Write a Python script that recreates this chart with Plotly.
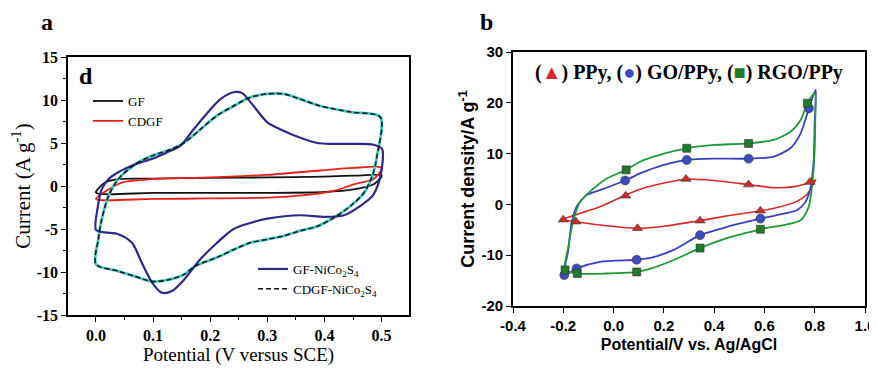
import plotly.graph_objects as go

# ---------------- Panel a data (CV loops) ----------------
gfnico_x = [0.0, 0.003, 0.010, 0.022, 0.039, 0.068, 0.10, 0.124, 0.148, 0.171, 0.195, 0.218, 0.241, 0.256,
            0.276, 0.30, 0.329, 0.358, 0.387, 0.416, 0.451, 0.486, 0.501, 0.501, 0.495, 0.484, 0.463, 0.434,
            0.40, 0.358, 0.30, 0.27, 0.241, 0.212, 0.183, 0.154, 0.133, 0.115, 0.098, 0.08, 0.063, 0.039,
            0.016, 0.0]
gfnico_y = [-5.1, -2.5, -0.4, 0.8, 1.6, 2.5, 3.2, 3.9, 4.7, 6.6, 8.5, 10.1, 10.9, 10.8,
            9.3, 7.4, 6.4, 5.6, 5.0, 4.9, 4.9, 4.8, 4.3, 2.3, 0.4, -1.15, -2.3, -3.4,
            -3.6, -3.4, -3.8, -4.3, -5.0, -6.6, -8.5, -10.9, -12.2, -12.4, -11.2, -8.9, -6.6, -5.6,
            -5.4, -5.1]

cdgfnico_x = [0.0, 0.004, 0.010, 0.022, 0.039, 0.068, 0.098, 0.133, 0.156, 0.183, 0.212, 0.241, 0.270,
              0.30, 0.329, 0.358, 0.393, 0.446, 0.498, 0.492, 0.484, 0.469, 0.446, 0.416, 0.387, 0.358,
              0.329, 0.30, 0.27, 0.241, 0.212, 0.174, 0.154, 0.127, 0.098, 0.068, 0.039, 0.0]
cdgfnico_y = [-9.1, -6.2, -3.9, -1.15, 0.8, 2.5, 3.5, 4.3, 5.1, 6.6, 8.2, 9.3, 10.3,
              10.7, 10.7, 10.1, 9.3, 8.6, 8.0, 3.5, 1.2, -0.8, -2.3, -3.7, -4.7, -5.2,
              -5.8, -6.2, -6.6, -7.4, -8.3, -9.3, -10.3, -10.9, -11.1, -10.5, -9.9, -9.1]

gf_x = [0.0, 0.016, 0.039, 0.1, 0.2, 0.3, 0.4, 0.45, 0.5, 0.5, 0.486, 0.451, 0.4, 0.3, 0.2, 0.1, 0.0]
gf_y = [-0.76, 0.4, 0.8, 0.85, 0.95, 1.0, 1.1, 1.2, 1.25, 1.1, 0.2, -0.4, -0.7, -0.8, -0.8, -0.8, -0.76]

cdgf_x = [0.0, 0.022, 0.045, 0.098, 0.2, 0.3, 0.393, 0.45, 0.498, 0.5, 0.486, 0.451, 0.42, 0.36, 0.3, 0.2, 0.1, 0.0]
cdgf_y = [-1.5, -0.4, 0.4, 0.8, 1.0, 1.3, 1.8, 2.1, 2.2, 2.0, 0.8, 0.2, -0.5, -1.1, -1.35, -1.45, -1.5, -1.5]

a_xticks = [0.0, 0.1, 0.2, 0.3, 0.4, 0.5]
a_xlabels = ["0.0", "0.1", "0.2", "0.3", "0.4", "0.5"]
a_yticks = [-15, -10, -5, 0, 5, 10, 15]
a_ylabels = ["-15", "-10", "-5", "0", "5", "10", "15"]

# ---------------- Panel b data ----------------
ppy_x = [-0.2, -0.054, 0.046, 0.105, 0.2, 0.29, 0.4, 0.537, 0.637, 0.72, 0.78, 0.804,
         0.80, 0.77, 0.72, 0.65, 0.584, 0.46, 0.344, 0.2, 0.095, -0.054, -0.15, -0.2]
ppy_y = [-3.0, -0.45, 1.8, 3.0, 4.2, 5.0, 4.7, 3.9, 3.3, 3.5, 4.3, 4.8,
         4.5, 2.0, 0.4, -0.6, -1.25, -2.2, -3.2, -4.3, -4.7, -4.05, -3.4, -3.0]
ppy_mx = [-0.2, 0.048, 0.288, 0.537, 0.781, 0.584, 0.344, 0.095, -0.15]
ppy_my = [-3.0, 1.7, 5.0, 3.9, 4.4, -1.25, -3.2, -4.7, -3.4]

gopp_x = [-0.196, -0.18, -0.167, -0.147, -0.107, -0.054, 0.046, 0.105, 0.2, 0.291, 0.4, 0.537, 0.637,
          0.704, 0.744, 0.777, 0.804, 0.80, 0.795, 0.782, 0.762, 0.731, 0.65, 0.584, 0.46, 0.344,
          0.237, 0.15, 0.092, -0.054, -0.147, -0.196]
gopp_y = [-13.9, -9.0, -3.7, -0.45, 1.85, 2.8, 4.7, 6.1, 7.8, 8.75, 9.0, 9.0, 9.4,
          11.1, 14.0, 18.9, 22.6, 16.0, 8.0, 3.0, 0.4, -1.1, -2.1, -2.8, -4.3, -6.05,
          -9.0, -10.5, -10.9, -11.3, -12.6, -13.9]
gopp_mx = [0.046, 0.291, 0.537, 0.777, 0.584, 0.344, 0.092, -0.147, -0.196]
gopp_my = [4.7, 8.75, 9.0, 18.9, -2.8, -6.05, -10.9, -12.6, -13.9]

rgo_x = [-0.193, -0.18, -0.16, -0.133, -0.094, -0.027, 0.05, 0.105, 0.2, 0.291, 0.4, 0.537, 0.637,
         0.704, 0.744, 0.771, 0.80, 0.802, 0.797, 0.788, 0.776, 0.744, 0.584, 0.46, 0.344, 0.237,
         0.15, 0.092, -0.029, -0.144, -0.193]
rgo_y = [-12.9, -8.3, -3.1, 0.5, 2.5, 5.1, 6.8, 8.4, 10.0, 11.05, 11.7, 12.0, 12.7,
         14.3, 16.6, 19.9, 21.9, 16.0, 8.0, 3.0, -0.5, -3.1, -4.9, -6.5, -8.6, -11.0,
         -12.6, -13.3, -13.6, -13.6, -12.9]
rgo_mx = [0.05, 0.291, 0.537, 0.771, 0.584, 0.344, 0.092, -0.144, -0.193]
rgo_my = [6.8, 11.05, 12.0, 19.9, -4.9, -8.6, -13.3, -13.6, -12.9]

b_xticks = [-0.4, -0.2, 0.0, 0.2, 0.4, 0.6, 0.8, 1.0]
b_xlabels = ["-0.4", "-0.2", "0.0", "0.2", "0.4", "0.6", "0.8", "1.0"]
b_yticks = [-20, -10, 0, 10, 20, 30]
b_ylabels = ["-20", "-10", "0", "10", "20", "30"]

SERIF = "Liberation Serif, Times New Roman, serif"
SANS = "Liberation Sans, Arial, sans-serif"
OFF = 8  # page body margin
W, H = 877, 368 - OFF


def px(x):
    return (x - OFF) / W


def py(y):
    return 1 - (y - OFF) / H


fig = go.Figure()


def line(x, y, color, width, name, legend=None, axes=("x", "y"), show=True, dash="solid", smooth=0.8):
    fig.add_trace(go.Scatter(
        x=x, y=y, mode="lines", name=name,
        line=dict(color=color, width=width, shape="spline", smoothing=smooth, dash=dash),
        legend=legend, showlegend=show, xaxis=axes[0], yaxis=axes[1], hoverinfo="skip"))


# panel a
line(gf_x, gf_y, "#111111", 1.8, "GF", legend="legend")
line(cdgf_x, cdgf_y, "#e3231c", 1.8, "CDGF", legend="legend")
line(cdgfnico_x, cdgfnico_y, "#3ec7c0", 2.8, "CDGF-NiCo<sub>2</sub>S<sub>4</sub>", legend="legend2", show=False)
line(gfnico_x, gfnico_y, "#2c2a86", 2.2, "GF-NiCo<sub>2</sub>S<sub>4</sub>", legend="legend2")
line(cdgfnico_x, cdgfnico_y, "#111111", 1.5, "CDGF-NiCo<sub>2</sub>S<sub>4</sub>", legend="legend2", dash="5px,3px")

# panel b
line(ppy_x, ppy_y, "#d42a2a", 1.6, "PPy", axes=("x2", "y2"), show=False, smooth=0.7)
line(gopp_x, gopp_y, "#3b3fc0", 1.8, "GO/PPy", axes=("x2", "y2"), show=False, smooth=0.7)
line(rgo_x, rgo_y, "#1e9a35", 1.8, "RGO/PPy", axes=("x2", "y2"), show=False, smooth=0.7)

for mx, my, sym, col, sz in [(ppy_mx, ppy_my, "triangle-up", "#d42a2a", 9),
                             (gopp_mx, gopp_my, "circle", "#3b4cc0", 9),
                             (rgo_mx, rgo_my, "square", "#1f7a2a", 8)]:
    fig.add_trace(go.Scatter(x=mx, y=my, mode="markers", showlegend=False, xaxis="x2", yaxis="y2",
                             marker=dict(symbol=sym, color=col, size=sz, line=dict(color="#333333", width=0.6)),
                             hoverinfo="skip"))

common = dict(showline=True, linecolor="black", linewidth=1.6, mirror=True, ticks="outside",
              tickcolor="black", tickwidth=1.4, showgrid=False, zeroline=False, automargin=False)

fig.update_layout(
    width=W, height=H, margin=dict(l=0, r=0, t=0, b=0),
    paper_bgcolor="white", plot_bgcolor="white", hovermode=False,
    xaxis=dict(domain=[px(68), px(409)], range=[-0.049, 0.548], tickvals=a_xticks, ticktext=a_xlabels,
               ticklen=5, minor=dict(ticks="outside", dtick=0.05, ticklen=3, tickcolor="black"),
               tickfont=dict(family=SERIF, size=16, color="black", weight="bold"),
               title=dict(text="Potential (V versus SCE)", font=dict(family=SERIF, size=19, color="black"), standoff=3),
               anchor="y", **common),
    yaxis=dict(domain=[py(315), py(57)], range=[-15, 15], tickvals=a_yticks, ticktext=a_ylabels, ticklen=5,
               minor=dict(ticks="outside", dtick=2.5, ticklen=3, tickcolor="black"),
               tickfont=dict(family=SERIF, size=16, color="black", weight="bold"),
               title=dict(text="Current (A g<sup>-1</sup>)", font=dict(family=SERIF, size=21, color="black"), standoff=4),
               anchor="x", **common),
    xaxis2=dict(domain=[px(513), px(865)], range=[-0.4, 1.0], tickvals=b_xticks, ticktext=b_xlabels, ticklen=5,
                tickfont=dict(family=SANS, size=15, color="black", weight="bold"),
                title=dict(text="Potential/V vs. Ag/AgCl", font=dict(family=SANS, size=16, color="black", weight="bold"), standoff=6),
                anchor="y2", **common),
    yaxis2=dict(domain=[py(306), py(52)], range=[-20, 30], tickvals=b_yticks, ticktext=b_ylabels, ticklen=5,
                tickfont=dict(family=SANS, size=15, color="black", weight="bold"),
                title=dict(text="Current density/A g<sup>-1</sup>", font=dict(family=SANS, size=18, color="black", weight="bold"), standoff=2),
                anchor="x2", **common),
    legend=dict(x=px(88), y=py(86), xanchor="left", yanchor="top", bgcolor="rgba(0,0,0,0)",
                font=dict(family=SERIF, size=13, color="black"), tracegroupgap=0),
    legend2=dict(x=px(253), y=py(254), xanchor="left", yanchor="top", bgcolor="rgba(0,0,0,0)",
                 font=dict(family=SERIF, size=13, color="black"), tracegroupgap=0),
    annotations=[
        dict(text="a", x=px(47), y=py(22), xref="paper", yref="paper", showarrow=False,
             xanchor="center", yanchor="middle",
             font=dict(family=SERIF, size=24, color="black", weight="bold")),
        dict(text="b", x=px(486), y=py(22), xref="paper", yref="paper", showarrow=False,
             xanchor="center", yanchor="middle",
             font=dict(family=SERIF, size=24, color="black", weight="bold")),
        dict(text="d", x=px(86), y=py(76), xref="paper", yref="paper", showarrow=False,
             xanchor="center", yanchor="middle",
             font=dict(family=SERIF, size=24, color="black", weight="bold")),
        dict(text="(<span style='color:#d42a2a'>▲</span>) PPy, (<span style='color:#3b4cc0'>●</span>) GO/PPy, "
                  "(<span style='color:#1f7a2a'>■</span>) RGO/PPy",
             x=px(689), y=py(72), xref="paper", yref="paper", showarrow=False,
             xanchor="center", yanchor="middle",
             font=dict(family=SERIF, size=20, color="black", weight="bold")),
    ],
)

fig.write_html("out.html")
